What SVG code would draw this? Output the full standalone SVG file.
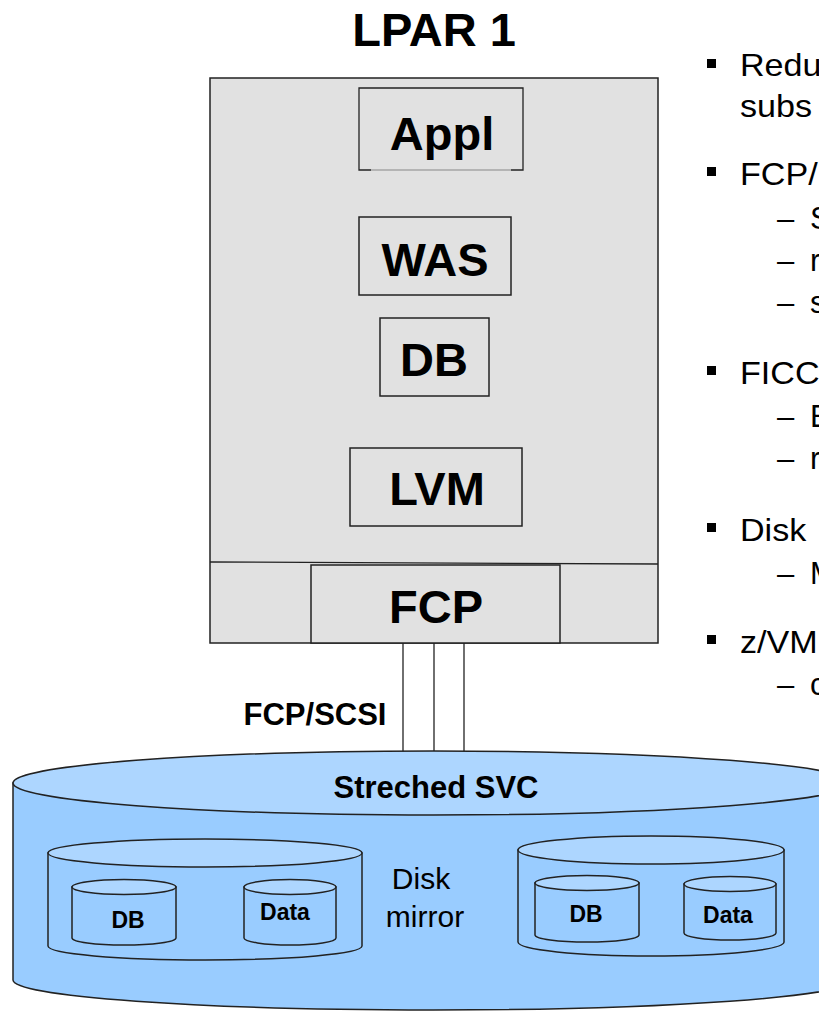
<svg xmlns="http://www.w3.org/2000/svg" width="819" height="1012" viewBox="0 0 819 1012">
<style>
.box{fill:#e1e1e1;stroke:#222;stroke-width:1.5}
.lbl{font-family:"Liberation Sans",Arial,sans-serif;font-weight:bold;font-size:47px;text-anchor:middle;fill:#000}
.bl{font-family:"Liberation Sans",Arial,sans-serif;font-size:31px;fill:#000}
.cb{fill:#99ccff;stroke:#222;stroke-width:1.5}
.ct{fill:#add6ff;stroke:#222;stroke-width:1.5}
.st{font-family:"Liberation Sans",Arial,sans-serif;font-weight:bold;font-size:31px;text-anchor:middle;fill:#000}
.sm{font-family:"Liberation Sans",Arial,sans-serif;font-weight:bold;font-size:23px;text-anchor:middle;fill:#000}
.nm{font-family:"Liberation Sans",Arial,sans-serif;font-size:30px;text-anchor:middle;fill:#000}
.ln{stroke:#222;stroke-width:1.3;fill:none}
</style>
<rect width="819" height="1012" fill="#fff"/>
<text x="434" y="46" class="lbl">LPAR 1</text>
<g id="lpar">
<rect x="210" y="78" width="448" height="565" class="box"/>
<line x1="210" y1="562" x2="658" y2="564" class="ln" stroke-width="1.5"/>
</g>
<g id="appl">
<rect x="359" y="88" width="164" height="82" fill="#e1e1e1" stroke="none"/>
<path d="M371,170 H359 V88 H523 V170 H511" class="ln" stroke-width="1.5"/>
<line x1="371" y1="170" x2="511" y2="170" stroke="#888" stroke-width="1.2"/>
<text x="442" y="150" class="lbl">Appl</text>
</g>
<g id="was">
<rect x="359" y="217" width="152" height="78" class="box"/>
<text x="435" y="276" class="lbl">WAS</text>
</g>
<g id="db">
<rect x="380" y="318" width="109" height="78" class="box"/>
<text x="434" y="376" class="lbl">DB</text>
</g>
<g id="lvm">
<rect x="350" y="448" width="172" height="78" class="box"/>
<text x="437" y="505" class="lbl">LVM</text>
</g>
<g id="fcp">
<rect x="311" y="565" width="249" height="78" class="box"/>
<text x="436" y="623" class="lbl">FCP</text>
</g>
<g id="connectors">
<line x1="403" y1="643" x2="403" y2="752" class="ln"/>
<line x1="434" y1="643" x2="434" y2="752" class="ln"/>
<line x1="464" y1="643" x2="464" y2="752" class="ln"/>
<line x1="362" y1="897" x2="519" y2="897" class="ln"/>
</g>
<text x="315" y="725" class="st">FCP/SCSI</text>
<g id="svc">
<path d="M13,783 V980 A420,30 0 0 0 853,980 V783 Z" class="cb"/>
<ellipse cx="433" cy="783" rx="420" ry="32" class="ct"/>
<text x="436" y="798" class="st">Streched SVC</text>
</g>
<g id="site1">
<path d="M48,853 V946 A157,14 0 0 0 362,946 V853 Z" class="cb"/>
<ellipse cx="205" cy="853" rx="157" ry="14" class="ct"/>
</g>
<g id="db1">
<path d="M72,887 V938 A52,7 0 0 0 176,938 V887 Z" class="cb"/>
<ellipse cx="124" cy="887" rx="52" ry="7.5" class="ct"/>
<text x="128" y="928" class="sm">DB</text>
</g>
<g id="data1">
<path d="M244,887 V938 A46,7 0 0 0 336,938 V887 Z" class="cb"/>
<ellipse cx="290" cy="887" rx="46" ry="7.5" class="ct"/>
<text x="285" y="920" class="sm">Data</text>
</g>
<g id="site2">
<path d="M518,850 V942 A133,14 0 0 0 784,942 V850 Z" class="cb"/>
<ellipse cx="651" cy="850" rx="133" ry="14" class="ct"/>
</g>
<g id="db2">
<path d="M535,883 V935 A52,7 0 0 0 639,935 V883 Z" class="cb"/>
<ellipse cx="587" cy="883" rx="52" ry="7.5" class="ct"/>
<text x="586" y="922" class="sm">DB</text>
</g>
<g id="data2">
<path d="M684,884 V933 A46,7 0 0 0 776,933 V884 Z" class="cb"/>
<ellipse cx="730" cy="884" rx="46" ry="7.5" class="ct"/>
<text x="728" y="923" class="sm">Data</text>
</g>
<text x="421" y="889" class="nm">Disk</text>
<text x="425" y="927" class="nm">mirror</text>
<g id="bullets">
<rect x="707" y="59" width="9" height="9" fill="#000"/>
<rect x="707" y="167" width="9" height="9" fill="#000"/>
<rect x="707" y="366" width="9" height="9" fill="#000"/>
<rect x="707" y="523" width="9" height="9" fill="#000"/>
<rect x="707" y="635" width="9" height="9" fill="#000"/>
<g transform="translate(740,0) scale(1.1,1) translate(-740,0)">
<text x="740" y="76" class="bl">Redu</text>
<text x="740" y="117" class="bl">subs</text>
<text x="740" y="185" class="bl">FCP/</text>
<text x="740" y="384" class="bl">FICC</text>
<text x="740" y="541" class="bl">Disk</text>
<text x="740" y="653" class="bl">z/VM</text>
</g>
<text class="bl" y="229"><tspan x="777">–</tspan><tspan x="810">S</tspan></text>
<text class="bl" y="271"><tspan x="777">–</tspan><tspan x="810">r</tspan></text>
<text class="bl" y="313"><tspan x="777">–</tspan><tspan x="810">s</tspan></text>
<text class="bl" y="427"><tspan x="777">–</tspan><tspan x="810">E</tspan></text>
<text class="bl" y="469"><tspan x="777">–</tspan><tspan x="810">r</tspan></text>
<text class="bl" y="584"><tspan x="777">–</tspan><tspan x="810">M</tspan></text>
<text class="bl" y="695"><tspan x="777">–</tspan><tspan x="810">c</tspan></text>
</g>
</svg>
